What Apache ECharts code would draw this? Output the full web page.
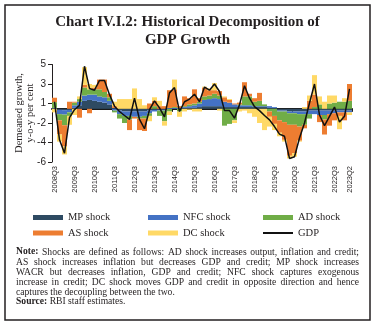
<!DOCTYPE html>
<html><head><meta charset="utf-8">
<script src="https://cdn.jsdelivr.net/npm/echarts@6/dist/echarts.min.js"></script>
<style>html,body{margin:0;padding:0;background:#fff}#c{width:375px;height:325px}</style>
</head><body><div id="c"></div>
<script>
const categories = ['2008Q3','2008Q4','2009Q1','2009Q2','2009Q3','2009Q4','2010Q1','2010Q2','2010Q3','2010Q4',
'2011Q1','2011Q2','2011Q3','2011Q4','2012Q1','2012Q2','2012Q3','2012Q4','2013Q1','2013Q2',
'2013Q3','2013Q4','2014Q1','2014Q2','2014Q3','2014Q4','2015Q1','2015Q2','2015Q3','2015Q4',
'2016Q1','2016Q2','2016Q3','2016Q4','2017Q1','2017Q2','2017Q3','2017Q4','2018Q1','2018Q2',
'2018Q3','2018Q4','2019Q1','2019Q2','2019Q3','2019Q4','2020Q1','2020Q2','2020Q3','2020Q4',
'2021Q1','2021Q2','2021Q3','2021Q4','2022Q1','2022Q2','2022Q3','2022Q4','2023Q1','2023Q2'];

const mpShock = [0.05,-0.1,-0.15,-0.1,0.1,0.4,0.9,1.0,0.9,0.8,0.7,0.5,0.1,-0.2,-0.3,-0.3,-0.3,-0.3,-0.3,-0.2,-0.1,-0.1,-0.1,0.0,0.0,0.0,0.1,0.1,0.1,0.2,0.3,0.3,0.3,0.3,0.2,0.2,0.2,0.2,0.2,0.2,0.2,0.2,0.2,0.1,0.1,-0.2,-0.2,-0.3,-0.3,-0.3,-0.3,-0.2,-0.2,-0.2,-0.2,-0.2,-0.2,-0.2,-0.2,-0.2];
const nfcShock = [0.05,-0.5,-0.5,-0.3,0.3,0.4,0.6,0.6,0.7,0.6,0.6,0.4,-0.2,-0.4,-0.5,-0.5,-0.6,-0.6,-0.5,-0.3,-0.2,-0.1,-0.1,0.1,0.1,0.1,0.1,0.2,0.3,0.4,0.7,0.8,0.9,0.8,0.6,0.5,0.3,0.2,0.2,0.2,0.1,0.1,0.1,0.2,0.1,-0.1,-0.1,-0.2,-0.2,-0.3,-0.3,-0.4,-0.4,-0.5,-0.5,-0.4,-0.3,-0.2,-0.2,-0.2];
const adShock = [0.65,-0.7,-1.2,-0.4,0.3,0.3,0.9,0.6,0.6,0.8,0.6,0.4,-0.2,-0.5,-0.8,-0.4,0.0,-0.2,-0.3,-0.3,0.3,-0.6,-1.2,-0.3,0.1,-0.3,0.1,0.2,0.2,0.2,0.4,0.4,0.5,0.4,-1.9,-1.7,-1.3,0.1,1.0,1.0,0.5,0.6,0.2,-0.3,-0.8,-1.0,-1.2,-1.3,-1.3,-1.4,-1.2,-0.5,0.2,0.5,-0.5,0.6,0.7,0.8,0.8,0.9];
const asShock = [0.5,-1.6,-2.4,0.8,0.1,-1.0,0.3,-0.5,0.2,1.1,1.4,0.4,0.2,0.0,0.0,-1.2,-0.2,-1.3,-1.4,0.6,0.6,0.3,0.3,2.0,2.0,0.2,1.1,0.7,1.6,0.4,1.0,0.6,0.4,0.5,0.5,0.3,0.1,0.2,1.6,0.3,0.4,0.9,0.0,-0.6,-0.9,-1.4,-2.0,-3.5,-3.2,-1.6,-0.4,0.9,1.4,-0.8,-1.7,-1.3,-0.8,-0.4,-0.9,1.9];
const dcShock = [-0.4,-0.8,-0.9,-1.0,-0.7,0.3,2.0,0.6,0.3,0.0,0.0,0.0,0.5,1.1,1.1,1.1,2.3,1.1,0.4,-0.6,0.4,0.6,-0.5,-0.4,1.1,-0.6,-0.3,-0.1,-0.3,-0.3,0.1,0.2,0.8,-0.2,0.1,0.1,-0.3,-0.3,-0.2,-0.5,-0.9,-1.6,-2.4,-1.1,-0.7,-0.4,-0.2,-0.3,-0.4,-0.1,0.2,0.6,2.2,0.9,0.8,0.9,0.8,-1.5,0.4,-0.3];
const gdp = [0.8,-3.5,-5.0,-1.0,-0.1,0.4,4.8,2.3,2.1,3.2,3.2,1.6,0.3,-0.3,-0.75,-1.2,1.2,-1.2,-2.25,-0.1,0.9,0.1,-0.9,1.8,2.4,-0.3,0.8,1.1,1.65,0.8,2.45,2.1,2.8,1.95,-0.2,-0.2,-1.05,0.45,2.6,1.2,0.25,-0.2,-0.75,-1.25,-2.0,-2.85,-3.1,-5.6,-5.4,-3.3,-1.6,0.65,2.8,-0.7,-1.9,-0.85,0.2,-1.5,-0.85,2.25];

const yTickValues = [-6, -3.8, -1.6, 0.6, 2.8, 5];
const seriesNames = ['MP shock','NFC shock','AD shock','AS shock','DC shock','GDP'];
const colors = ['#2E4A62','#4472C4','#70AD47','#ED7D31','#FFD966','#111111'];

const titleText = 'Chart IV.I.2: Historical Decomposition of\nGDP Growth';
const yName = 'Demeaned growth,\ny-o-y per cent';
const noteLines = [
  'Note: Shocks are defined as follows: AD shock increases output, inflation and credit;',
  'AS shock increases inflation but decreases GDP and credit; MP shock increases',
  'WACR but decreases inflation, GDP and credit; NFC shock captures exogenous',
  'increase in credit; DC shock moves GDP and credit in opposite direction and hence',
  'captures the decoupling between the two.',
  'Source: RBI staff estimates.'
];

const SERIF = '"Liberation Serif", "DejaVu Serif", serif';
const SANS = '"Liberation Sans", "DejaVu Sans", sans-serif';

// justified note text
const NOTE_FS = 9.6, NOTE_L = 16, NOTE_R = 359;
const noteY = [252, 262, 272, 282, 292, 301.8];
const ctx = document.createElement('canvas').getContext('2d');
function measure(t, bold) { ctx.font = (bold ? 'bold ' : '') + NOTE_FS + 'px "Liberation Serif"'; return ctx.measureText(t).width; }
const graphics = [];
noteLines.forEach((line, li) => {
  const words = line.split(' ');
  const bolds = words.map((w, wi) => wi === 0 && (w === 'Note:' || w === 'Source:'));
  const widths = words.map((w, wi) => measure(w, bolds[wi]));
  const justify = li < 4;
  const total = widths.reduce((a, b) => a + b, 0);
  const gap = justify ? (NOTE_R - NOTE_L - total) / (words.length - 1) : measure(' ', false);
  let x = NOTE_L;
  words.forEach((w, wi) => {
    graphics.push({type: 'text', x: x, y: noteY[li], style: {text: w, font: (bolds[wi] ? 'bold ' : '') + NOTE_FS + 'px ' + SERIF, fill: '#231F20', textVerticalAlign: 'middle', textAlign: 'left'}});
    x += widths[wi] + gap;
  });
});
graphics.push({type: 'rect', shape: {x: 5, y: 5, width: 365, height: 315}, style: {fill: 'none', stroke: '#231F20', lineWidth: 1.5}, z: 10});
graphics.push({type: 'text', x: 25, y: 113, rotation: Math.PI / 2, style: {text: yName, font: '10.5px ' + SERIF, fill: '#231F20', textAlign: 'center', textVerticalAlign: 'middle', lineHeight: 11}});

const chart = echarts.init(document.getElementById('c'), null, {renderer: 'canvas'});

const barSeries = seriesNames.slice(0, 5).map((n, i) => ({
  name: n, type: 'bar', stack: 'shocks', xAxisIndex: 0,
  data: [mpShock, nfcShock, adShock, asShock, dcShock][i],
  barCategoryGap: '0%', itemStyle: {color: colors[i]}, animation: false
}));

function legendItem(name, left, top, h) {
  return {data: [name], left: left, top: top, padding: 0, itemWidth: 30, itemHeight: h, icon: 'rect',
    textStyle: {fontFamily: SERIF, fontSize: 10.5, color: '#231F20'}, selectedMode: false};
}

chart.setOption({
  animation: false,
  backgroundColor: '#fff',
  color: colors,
  title: {text: titleText, left: 'center', top: 13, padding: 0,
    textStyle: {fontFamily: SERIF, fontWeight: 'bold', fontSize: 15, lineHeight: 18, color: '#231F20'}},
  grid: {left: 52, right: 23, top: 64.5, bottom: 163, containLabel: false},
  legend: [
    legendItem('MP shock', 33, 212, 5), legendItem('NFC shock', 148, 212, 5), legendItem('AD shock', 263, 212, 5),
    legendItem('AS shock', 33, 227.5, 5), legendItem('DC shock', 148, 227.5, 5), legendItem('GDP', 263, 227.5, 2)
  ],
  xAxis: [
    {type: 'category', data: categories, position: 'bottom',
      axisLine: {onZero: true, lineStyle: {color: '#1a1a1a', width: 2}},
      axisTick: {show: true, length: 3, lineStyle: {color: '#1a1a1a'}},
      axisLabel: {show: false}, splitLine: {show: false}},
    {type: 'category', data: categories, position: 'bottom',
      axisLine: {show: false, onZero: false}, axisTick: {show: false}, splitLine: {show: false},
      axisLabel: {rotate: 90, margin: 4, fontFamily: SANS, fontSize: 7.5, color: '#231F20',
        interval: (idx) => idx % 4 === 0 || idx === categories.length - 1}}
  ],
  yAxis: {type: 'value', min: -6, max: 5,
    axisLine: {show: true, lineStyle: {color: '#231F20', width: 1}},
    axisTick: {show: true, length: 4, inside: false, customValues: yTickValues, lineStyle: {color: '#231F20'}},
    axisLabel: {customValues: yTickValues, formatter: (v) => String(Math.round(v)), margin: 6,
      fontFamily: SANS, fontSize: 10, color: '#231F20'},
    splitLine: {show: false}},
  series: barSeries.concat([{name: 'GDP', type: 'line', data: gdp, xAxisIndex: 0, symbol: 'none',
    lineStyle: {color: '#111', width: 1.5}, itemStyle: {color: '#111'}, z: 5}]),
  graphic: graphics
});
</script></body></html>
